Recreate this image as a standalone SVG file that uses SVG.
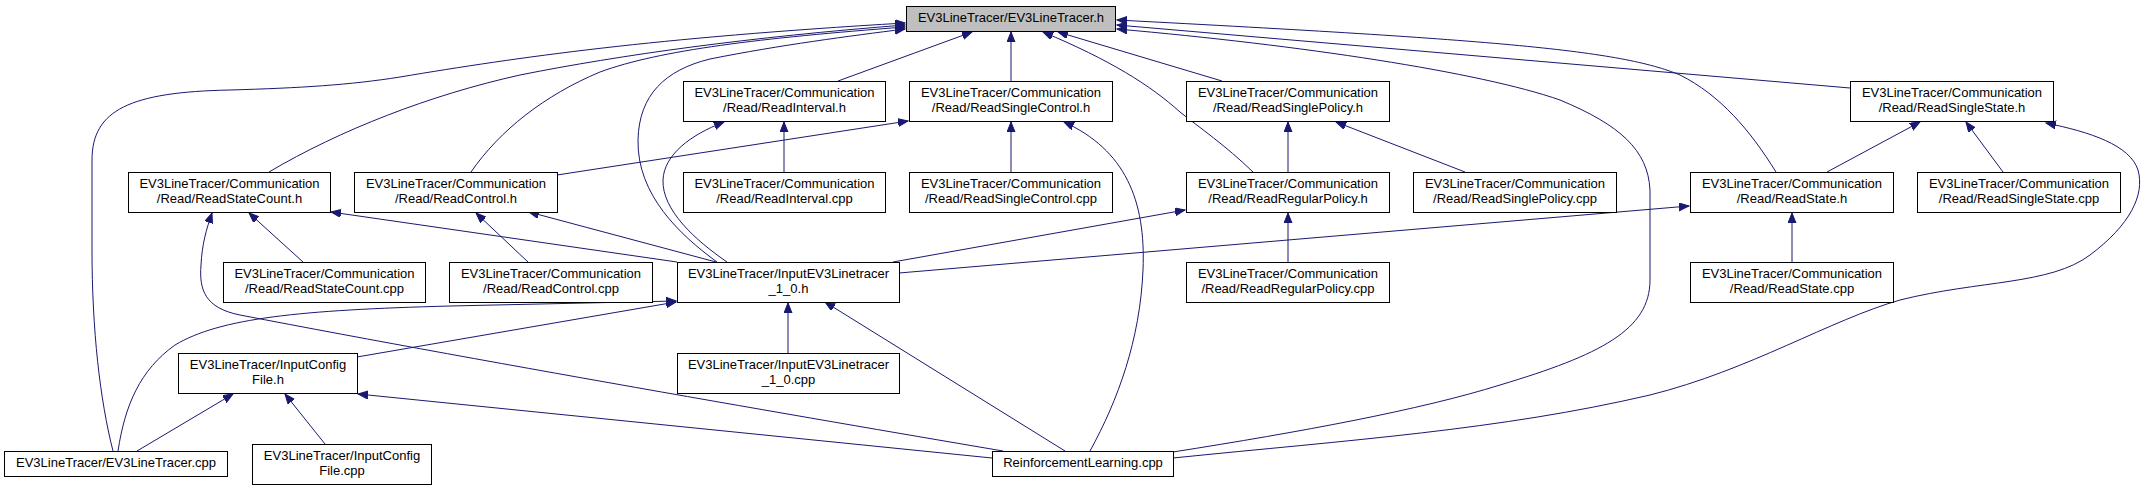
<svg xmlns="http://www.w3.org/2000/svg" width="2145" height="491" viewBox="0 0 2145 491">
<style>
.n rect{fill:#ffffff;stroke:#000000;stroke-width:1}
.n text{font-family:"Liberation Sans",Arial,Helvetica,sans-serif;font-size:13px;fill:#000000;text-anchor:middle}
#edges path{fill:none;stroke:#191970;stroke-width:1;marker-end:url(#ah)}
</style>
<defs>
<marker id="ah" markerUnits="userSpaceOnUse" markerWidth="11" markerHeight="9" refX="10" refY="4" orient="auto">
<path d="M0,0 L10,4 L0,8 z" fill="#191970" stroke="#191970" stroke-width="1"/>
</marker>
</defs>
<rect x="0" y="0" width="2145" height="491" fill="#ffffff"/>
<g id="edges">
<path d="M838,81 L972,32"/>
<path d="M1011,81 L1011,32"/>
<path d="M1222,81 L1058,32"/>
<path d="M1253,172 C1225,145 1200,128 1180,112 C1150,85 1110,60 1043,32"/>
<path d="M269,172 C340,130 430,95 520,75 C620,55 750,37 905,25"/>
<path d="M471,172 C500,130 545,95 600,72 C660,50 760,38 905,27"/>
<path d="M717,262 C680,235 637,195 638,140 C639,95 665,70 710,59 C780,45 850,36 905,29"/>
<path d="M113,451 C100,400 92,330 92,250 L92,160 C92,110 130,92 230,90 C300,88 350,85 400,77 C520,57 650,38 905,23"/>
<path d="M1173,452 C1300,432 1420,410 1500,385 C1600,355 1650,330 1650,280 L1650,190 C1648,150 1620,125 1560,100 C1480,72 1300,45 1117,29"/>
<path d="M1850,88 L1117,25"/>
<path d="M1776,172 C1750,130 1720,95 1680,75 C1620,50 1500,40 1117,20"/>
<path d="M784,172 L784,122"/>
<path d="M727,262 C695,240 662,210 663,180 C664,155 690,135 724,122"/>
<path d="M1011,172 L1011,122"/>
<path d="M557,175 L908,121"/>
<path d="M1090,451 C1118,400 1140,340 1143,270 C1146,200 1125,150 1064,122"/>
<path d="M1288,172 L1288,122"/>
<path d="M1465,172 L1336,122"/>
<path d="M1827,172 L1920,122"/>
<path d="M2003,172 L1966,122"/>
<path d="M1173,458 C1350,440 1500,430 1650,395 C1750,370 1830,320 1900,300 C1980,280 2050,285 2090,255 C2130,225 2145,195 2138,170 C2130,145 2090,132 2046,123"/>
<path d="M303,262 L249,213"/>
<path d="M677,262 L331,212"/>
<path d="M1003,451 C850,425 500,365 240,315 C205,308 199,290 201,265 C202,245 206,230 212,213"/>
<path d="M528,262 L476,213"/>
<path d="M716,262 L529,212"/>
<path d="M1288,262 L1288,213"/>
<path d="M893,262 L1185,210"/>
<path d="M1792,262 L1792,213"/>
<path d="M899,273 L1689,206"/>
<path d="M788,353 L788,303"/>
<path d="M1065,451 L825,302"/>
<path d="M118,451 C125,405 140,370 175,345 C220,318 300,310 450,306 L676,301"/>
<path d="M357,357 L676,302"/>
<path d="M137,451 L233,394"/>
<path d="M325,444 L285,394"/>
<path d="M992,458 L358,394"/>
</g>
<g id="n0" class="n"><rect x="906.5" y="6.5" width="209" height="25" style="fill:#bfbfbf"/><text x="1011" y="22">EV3LineTracer/EV3LineTracer.h</text></g>
<g id="n1" class="n"><rect x="683.5" y="81.5" width="202" height="40"/><text x="784.5" y="97">EV3LineTracer/Communication</text><text x="784.5" y="112">/Read/ReadInterval.h</text></g>
<g id="n2" class="n"><rect x="909.5" y="81.5" width="203" height="40"/><text x="1011" y="97">EV3LineTracer/Communication</text><text x="1011" y="112">/Read/ReadSingleControl.h</text></g>
<g id="n3" class="n"><rect x="1186.5" y="81.5" width="203" height="40"/><text x="1288" y="97">EV3LineTracer/Communication</text><text x="1288" y="112">/Read/ReadSinglePolicy.h</text></g>
<g id="n4" class="n"><rect x="1850.5" y="81.5" width="203" height="40"/><text x="1952" y="97">EV3LineTracer/Communication</text><text x="1952" y="112">/Read/ReadSingleState.h</text></g>
<g id="n5" class="n"><rect x="128.5" y="172.5" width="202" height="40"/><text x="229.5" y="188">EV3LineTracer/Communication</text><text x="229.5" y="203">/Read/ReadStateCount.h</text></g>
<g id="n6" class="n"><rect x="354.5" y="172.5" width="203" height="40"/><text x="456" y="188">EV3LineTracer/Communication</text><text x="456" y="203">/Read/ReadControl.h</text></g>
<g id="n7" class="n"><rect x="683.5" y="172.5" width="202" height="40"/><text x="784.5" y="188">EV3LineTracer/Communication</text><text x="784.5" y="203">/Read/ReadInterval.cpp</text></g>
<g id="n8" class="n"><rect x="909.5" y="172.5" width="203" height="40"/><text x="1011" y="188">EV3LineTracer/Communication</text><text x="1011" y="203">/Read/ReadSingleControl.cpp</text></g>
<g id="n9" class="n"><rect x="1186.5" y="172.5" width="203" height="40"/><text x="1288" y="188">EV3LineTracer/Communication</text><text x="1288" y="203">/Read/ReadRegularPolicy.h</text></g>
<g id="n10" class="n"><rect x="1413.5" y="172.5" width="203" height="40"/><text x="1515" y="188">EV3LineTracer/Communication</text><text x="1515" y="203">/Read/ReadSinglePolicy.cpp</text></g>
<g id="n11" class="n"><rect x="1690.5" y="172.5" width="203" height="40"/><text x="1792" y="188">EV3LineTracer/Communication</text><text x="1792" y="203">/Read/ReadState.h</text></g>
<g id="n12" class="n"><rect x="1917.5" y="172.5" width="203" height="40"/><text x="2019" y="188">EV3LineTracer/Communication</text><text x="2019" y="203">/Read/ReadSingleState.cpp</text></g>
<g id="n13" class="n"><rect x="223.5" y="262.5" width="202" height="40"/><text x="324.5" y="278">EV3LineTracer/Communication</text><text x="324.5" y="293">/Read/ReadStateCount.cpp</text></g>
<g id="n14" class="n"><rect x="449.5" y="262.5" width="203" height="40"/><text x="551" y="278">EV3LineTracer/Communication</text><text x="551" y="293">/Read/ReadControl.cpp</text></g>
<g id="n15" class="n"><rect x="677.5" y="262.5" width="222" height="40"/><text x="788.5" y="278">EV3LineTracer/InputEV3Linetracer</text><text x="788.5" y="293">_1_0.h</text></g>
<g id="n16" class="n"><rect x="1186.5" y="262.5" width="203" height="40"/><text x="1288" y="278">EV3LineTracer/Communication</text><text x="1288" y="293">/Read/ReadRegularPolicy.cpp</text></g>
<g id="n17" class="n"><rect x="1690.5" y="262.5" width="203" height="40"/><text x="1792" y="278">EV3LineTracer/Communication</text><text x="1792" y="293">/Read/ReadState.cpp</text></g>
<g id="n18" class="n"><rect x="178.5" y="353.5" width="179" height="40"/><text x="268" y="369">EV3LineTracer/InputConfig</text><text x="268" y="384">File.h</text></g>
<g id="n19" class="n"><rect x="677.5" y="353.5" width="222" height="40"/><text x="788.5" y="369">EV3LineTracer/InputEV3Linetracer</text><text x="788.5" y="384">_1_0.cpp</text></g>
<g id="n20" class="n"><rect x="4.5" y="451.5" width="223" height="25"/><text x="116" y="467">EV3LineTracer/EV3LineTracer.cpp</text></g>
<g id="n21" class="n"><rect x="252.5" y="444.5" width="179" height="40"/><text x="342" y="460">EV3LineTracer/InputConfig</text><text x="342" y="475">File.cpp</text></g>
<g id="n22" class="n"><rect x="992.5" y="451.5" width="181" height="25"/><text x="1083" y="467">ReinforcementLearning.cpp</text></g>
</svg>
